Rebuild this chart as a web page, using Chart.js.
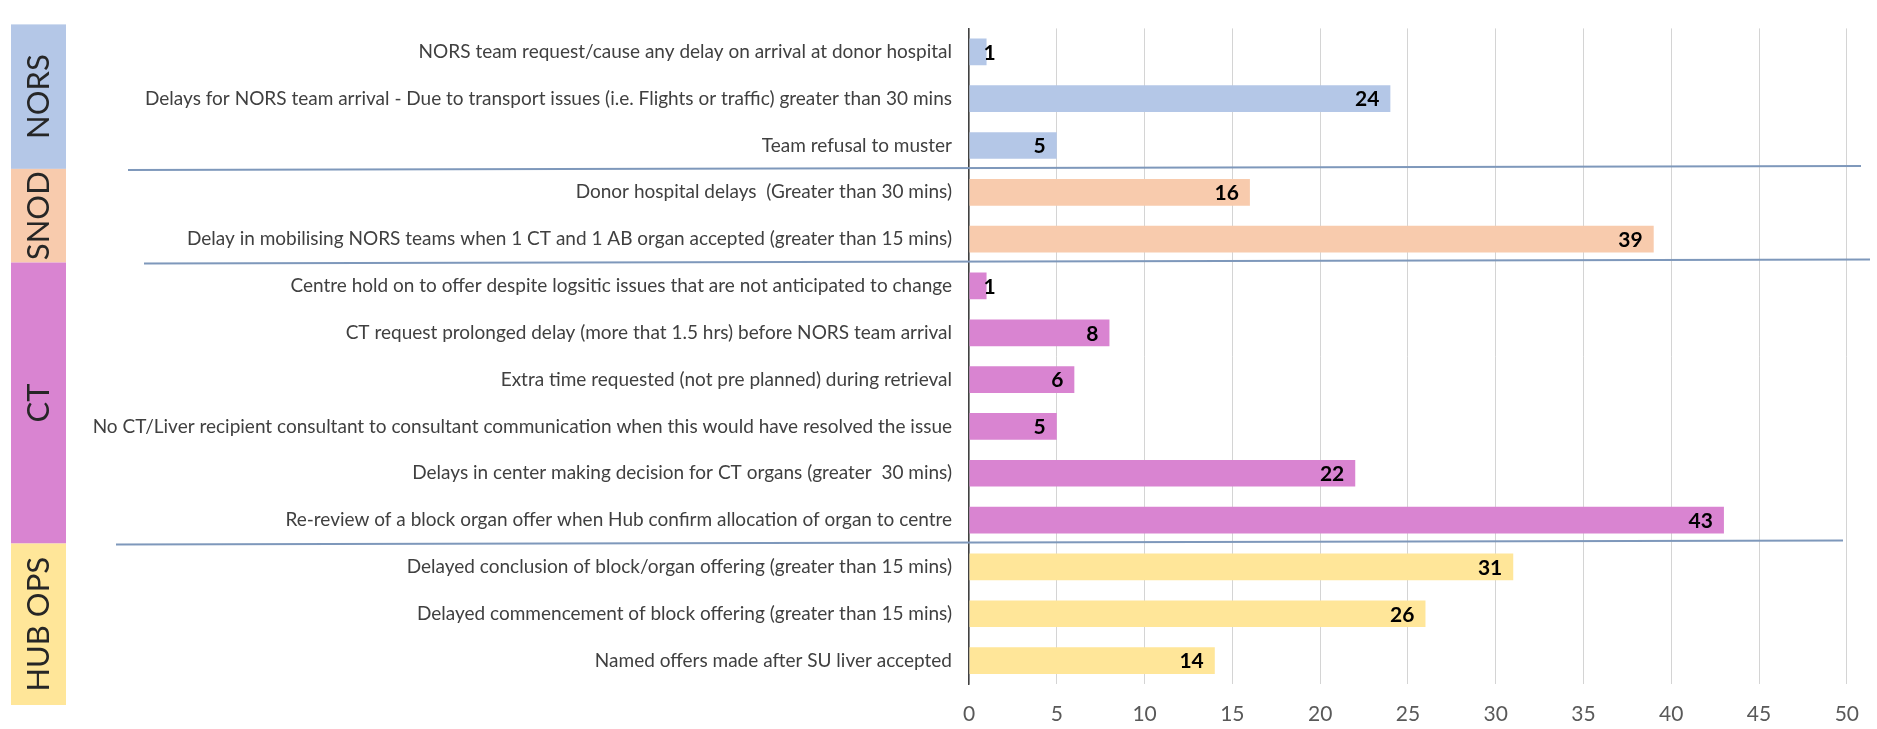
<!DOCTYPE html>
<html>
<head>
<meta charset="utf-8">
<script src="https://cdn.jsdelivr.net/npm/chart.js@4/dist/chart.umd.min.js"></script>
<style>
  body { margin: 0; background: #fff; }
  canvas { display: block; }
</style>
</head>
<body>
<canvas id="issuesChart" width="1877" height="729"></canvas>
<script>
// categories, top to bottom
var labels = [
  "NORS team request/cause any delay on arrival at donor hospital",
  "Delays for NORS team arrival - Due to transport issues (i.e. Flights or traffic) greater than 30 mins",
  "Team refusal to muster",
  "Donor hospital delays  (Greater than 30 mins)",
  "Delay in mobilising NORS teams when 1 CT and 1 AB organ accepted (greater than 15 mins)",
  "Centre hold on to offer despite logsitic issues that are not anticipated to change",
  "CT request prolonged delay (more that 1.5 hrs) before NORS team arrival",
  "Extra time requested (not pre planned) during retrieval",
  "No CT/Liver recipient consultant to consultant communication when this would have resolved the issue",
  "Delays in center making decision for CT organs (greater  30 mins)",
  "Re-review of a block organ offer when Hub confirm allocation of organ to centre",
  "Delayed conclusion of block/organ offering (greater than 15 mins)",
  "Delayed commencement of block offering (greater than 15 mins)",
  "Named offers made after SU liver accepted"
];
var counts = [1, 24, 5, 16, 39, 1, 8, 6, 5, 22, 43, 31, 26, 14];

// groups (first category index, last category index)
var groupNames = ["NORS", "SNOD", "CT", "HUB OPS"];
var groupFirst = [0, 3, 5, 11];
var groupLast = [2, 4, 10, 13];
var groupColors = ["#b4c7e7", "#f8cbad", "#d984d1", "#ffe699"];

var xTicks = [0, 5, 10, 15, 20, 25, 30, 35, 40, 45, 50];

function groupOf(i) {
  for (var g = 0; g < groupFirst.length; g++) {
    if (i >= groupFirst[g] && i <= groupLast[g]) return g;
  }
  return 0;
}
var barColors = labels.map(function(l, i) { return groupColors[groupOf(i)]; });

// group boxes on the left + separator lines
var groupPlugin = {
  id: 'groups',
  afterDraw: function(chart) {
    var ctx = chart.ctx;
    var y = chart.scales.y;
    var area = chart.chartArea;
    function edge(i) { // boundary above category i
      return (y.getPixelForValue(i - 1) + y.getPixelForValue(i)) / 2;
    }
    ctx.save();
    for (var g = 0; g < groupNames.length; g++) {
      var top = g == 0 ? area.top - 4 : edge(groupFirst[g]);
      var bottom = g == groupNames.length - 1 ? area.bottom + 21 : edge(groupLast[g] + 1);
      ctx.fillStyle = groupColors[g];
      ctx.fillRect(11, top, 55, bottom - top);
      ctx.save();
      ctx.translate(39, (top + bottom) / 2);
      ctx.rotate(-Math.PI / 2);
      ctx.fillStyle = "#262626";
      ctx.font = "31px Lato";
      ctx.textAlign = "center";
      ctx.textBaseline = "middle";
      ctx.fillText(groupNames[g], 0, 0);
      ctx.restore();
    }
    // separator lines between groups
    var lineLeft = [128, 144, 116];
    var lineRight = [1861, 1870, 1843];
    ctx.strokeStyle = "#7e98bb";
    ctx.lineWidth = 2;
    for (var k = 1; k < groupFirst.length; k++) {
      var yy = edge(groupFirst[k]);
      ctx.beginPath();
      ctx.moveTo(lineLeft[k - 1], yy + 1);
      ctx.lineTo(lineRight[k - 1], yy - 3);
      ctx.stroke();
    }
    ctx.restore();
  }
};

// value labels at bar end
var valuePlugin = {
  id: 'values',
  afterDatasetsDraw: function(chart) {
    var ctx = chart.ctx;
    var meta = chart.getDatasetMeta(0);
    ctx.save();
    ctx.font = "bold 21px Lato";
    ctx.fillStyle = "#000";
    ctx.textBaseline = "middle";
    meta.data.forEach(function(bar, i) {
      var txt = String(counts[i]);
      var w = ctx.measureText(txt).width;
      if (bar.x - 11 - w < bar.base + 2) {
        ctx.textAlign = "left";
        ctx.fillText(txt, bar.x - 3, bar.y + 1);
      } else {
        ctx.textAlign = "right";
        ctx.fillText(txt, bar.x - 11, bar.y + 1);
      }
    });
    ctx.restore();
  }
};

var chart = new Chart(document.getElementById("issuesChart"), {
  type: 'bar',
  data: {
    labels: labels,
    datasets: [{
      data: counts,
      backgroundColor: barColors,
      borderWidth: 0,
      categoryPercentage: 1,
      barPercentage: 0.57
    }]
  },
  options: {
    indexAxis: 'y',
    responsive: false,
    animation: false,
    layout: { padding: { top: 15, right: 17, left: 0, bottom: 0 } },
    plugins: {
      legend: { display: false },
      tooltip: { enabled: false }
    },
    scales: {
      x: {
        min: 0,
        max: 50,
        afterBuildTicks: function(scale) {
          scale.ticks = xTicks.map(function(v) { return { value: v }; });
        },
        afterFit: function(scale) { scale.height = 45; },
        grid: { color: "#d4d4d4", lineWidth: 1, drawTicks: false },
        border: { display: false },
        ticks: {
          color: "#595959",
          font: { family: "Lato", size: 21 },
          padding: 18
        }
      },
      y: {
        afterFit: function(scale) { scale.width = 969; },
        grid: { display: false, drawTicks: false },
        border: { color: "#404040", width: 1.5 },
        ticks: {
          color: "#404040",
          font: { family: "Lato", size: 19 },
          padding: 17,
          autoSkip: false
        }
      }
    }
  },
  plugins: [groupPlugin, valuePlugin]
});
</script>
</body>
</html>
